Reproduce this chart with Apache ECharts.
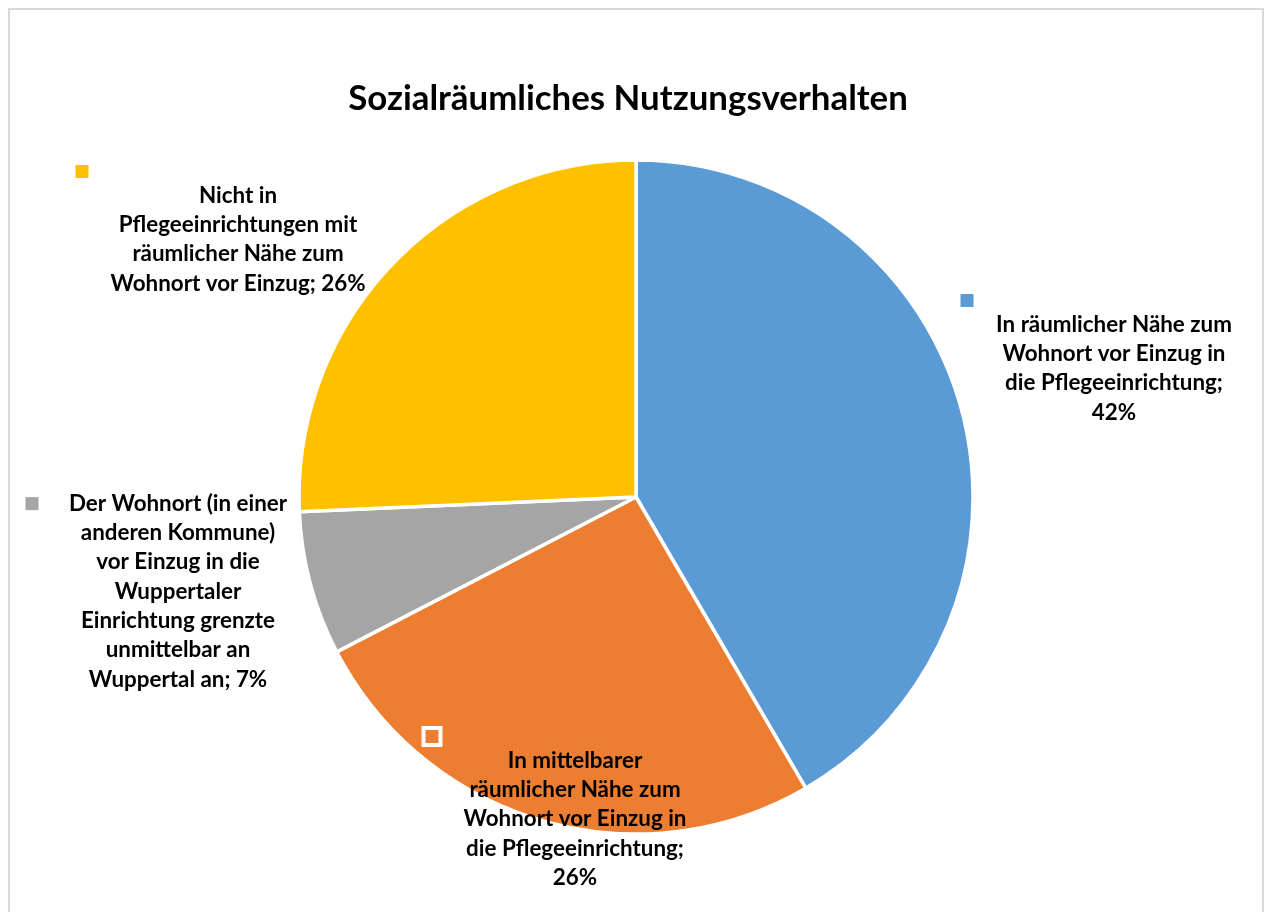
<!DOCTYPE html>
<html>
<head>
<meta charset="utf-8">
<script src="https://cdn.jsdelivr.net/npm/echarts@6/dist/echarts.min.js"></script>
<style>
  html, body { margin: 0; padding: 0; background: #fff; }
  #chart { width: 1269px; height: 912px; }
</style>
</head>
<body>
<div id="chart"></div>
<script>
const titleText = 'Sozialräumliches Nutzungsverhalten';

const categories = [
  'In räumlicher Nähe zum Wohnort vor Einzug in die Pflegeeinrichtung',
  'In mittelbarer räumlicher Nähe zum Wohnort vor Einzug in die Pflegeeinrichtung',
  'Der Wohnort (in einer anderen Kommune) vor Einzug in die Wuppertaler Einrichtung grenzte unmittelbar an Wuppertal an',
  'Nicht in Pflegeeinrichtungen mit räumlicher Nähe zum Wohnort vor Einzug'
];
const values = [41.6, 25.8, 6.9, 25.7];
const colors = ['#5B9BD5', '#ED7D31', '#A5A5A5', '#FFC000'];

// label boxes: centre x, top y, box width, max line width, key on first text line
const labelX = [1114, 575, 178, 238];
const labelTop = [291, 727, 489, 162];
const labelW = [307, 299, 305, 325];
const maxLine = [246, 235, 228, 256];
const keyInline = [false, false, true, false];

const FONT = 'Lato';
const ctx = document.createElement('canvas').getContext('2d');
function textWidth(s, size) {
  ctx.font = 'bold ' + size + 'px ' + FONT;
  return ctx.measureText(s).width;
}
// size the fonts so the text runs as wide as in the original
const labelSize = 18 * 236 / textWidth('In räumlicher Nähe zum', 18);
const titleSize = 30 * 560 / textWidth(titleText, 30);

function wrap(text, maxW) {
  const words = text.split(' ');
  const lines = [];
  let cur = '';
  words.forEach((w) => {
    const t = cur ? cur + ' ' + w : w;
    if (cur && textWidth(t, labelSize) > maxW) {
      lines.push(cur);
      cur = w;
    } else {
      cur = t;
    }
  });
  if (cur) lines.push(cur);
  return lines;
}

const rich = {
  t: {
    fontFamily: FONT,
    fontWeight: 'bold',
    fontSize: labelSize,
    lineHeight: 29.3,
    color: '#000',
    align: 'center',
    textBorderWidth: 0
  },
  s: { width: 13, height: 9, align: 'right' }
};
colors.forEach((c, i) => {
  rich['k' + i] = {
    width: 13,
    height: 13,
    lineHeight: 19,
    backgroundColor: c,
    borderColor: '#fff',
    borderWidth: 4,
    align: 'left'
  };
});

const chart = echarts.init(document.getElementById('chart'));
chart.setOption({
  animation: false,
  backgroundColor: '#fff',
  title: {
    text: titleText,
    left: 628,
    top: 81,
    padding: 0,
    textAlign: 'center',
    textStyle: {
      fontFamily: FONT,
      fontWeight: 'bold',
      fontSize: titleSize,
      color: '#000'
    }
  },
  graphic: [
    {
      type: 'rect',
      silent: true,
      shape: { x: 9, y: 9, width: 1254, height: 940 },
      style: { fill: 'none', stroke: '#d9d9d9', lineWidth: 2 }
    }
  ],
  series: [
    {
      type: 'pie',
      center: [636, 497],
      radius: 337,
      startAngle: 90,
      clockwise: true,
      avoidLabelOverlap: false,
      silent: true,
      itemStyle: { borderColor: '#fff', borderWidth: 3.5 },
      label: {
        show: true,
        position: 'inside',
        overflow: 'none',
        textBorderWidth: 0,
        formatter: (p) => {
          const i = p.dataIndex;
          const lines = wrap(p.name + '; ' + Math.round(p.percent) + '%', maxLine[i]);
          const body = lines.map((l) => '{t|' + l + '}');
          if (keyInline[i]) body[0] = '{k' + i + '|}' + body[0] + '{s|}';
          else body.unshift('{k' + i + '|}');
          return body.join('\n');
        },
        rich: rich
      },
      labelLine: { show: false },
      labelLayout: (params) => {
        const i = params.dataIndex;
        return {
          x: labelX[i],
          y: labelTop[i],
          width: labelW[i],
          align: 'center',
          verticalAlign: 'top'
        };
      },
      data: categories.map((name, i) => ({
        name: name,
        value: values[i],
        itemStyle: { color: colors[i] }
      }))
    }
  ]
});
</script>
</body>
</html>
